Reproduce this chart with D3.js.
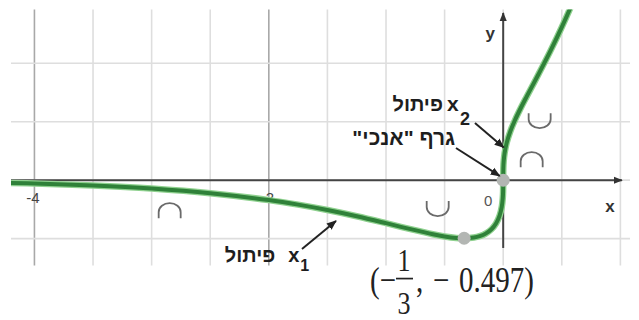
<!DOCTYPE html>
<html>
<head>
<meta charset="utf-8">
<script src="https://cdn.jsdelivr.net/npm/d3@7"></script>
<style>
  html, body { margin: 0; padding: 0; background: #fff; }
  svg { display: block; }
  .heb { font-family: "Liberation Sans", "DejaVu Sans", Arial, sans-serif; font-weight: bold; fill: #1e1e1e; }
  .math { font-family: "Liberation Serif", "DejaVu Serif", "Times New Roman", serif; fill: #222; }
</style>
</head>
<body>
<svg id="chart" width="639" height="320"></svg>
<script>
// f(x) = cbrt(x) * e^x, sampled values
const curveX = [-4.2, -4, -3.5, -3, -2.5, -2, -1.75, -1.5, -1.25, -1, -0.8, -0.6, -0.5, -0.4,
  -0.3333, -0.25, -0.2, -0.15, -0.1, -0.06, -0.03, -0.012, -0.004, -0.001, 0,
  0.001, 0.004, 0.012, 0.03, 0.06, 0.1, 0.15, 0.2, 0.3, 0.4, 0.5, 0.6, 0.7];
const curveY = [-0.0242, -0.0291, -0.0459, -0.0718, -0.1114, -0.1705, -0.2094, -0.2554, -0.3086, -0.3679, -0.4171, -0.4629, -0.4814, -0.4939,
  -0.4968, -0.4906, -0.4788, -0.4573, -0.4200, -0.3687, -0.3015, -0.2262, -0.1581, -0.0999, 0,
  0.1001, 0.1594, 0.2317, 0.3202, 0.4157, 0.5130, 0.6173, 0.7143, 0.9036, 1.0992, 1.3086, 1.5368, 1.7880];

// marked points: vertical-tangent point at the origin and the minimum
const pointX = [0, -1 / 3];
const pointY = [0, -0.497];

const gridX = [-4, -3.5, -3, -2.5, -2, -1.5, -1, -0.5, 0, 0.5, 1];
const gridY = [-0.5, 0, 0.5, 1];
const majorX = [-4, -2];
const tickLabelsX = [-4, -2];

// concavity marks
const concavityX = [-2.846, -0.559, 0.243, 0.311];
const concavityY = [-0.265, -0.239, 0.171, 0.513];
const concavityType = ["cap", "cup", "cap", "cup"];

const svg = d3.select("#chart");

const x = d3.scaleLinear().domain([-4.2, 1.082]).range([11, 630]);
const y = d3.scaleLinear().domain([-0.73, 1.46]).range([265.5, 9.5]);

// grid
const grid = svg.append("g");
grid.selectAll("line.gx").data(gridX).join("line")
  .attr("x1", d => x(d)).attr("x2", d => x(d))
  .attr("y1", y.range()[1]).attr("y2", y.range()[0])
  .attr("stroke", d => majorX.includes(d) ? "#a8a8a8" : "#dedede")
  .attr("stroke-width", 1.6);
grid.selectAll("line.gy").data(gridY).join("line")
  .attr("x1", x.range()[0]).attr("x2", x.range()[1])
  .attr("y1", d => y(d)).attr("y2", d => y(d))
  .attr("stroke", "#dedede").attr("stroke-width", 1.6);

// tick labels
const xAxis = d3.axisBottom(x).tickValues(tickLabelsX).tickSize(0).tickFormat(d => String(d));
const axG = svg.append("g").attr("transform", `translate(0,${y(0)})`).call(xAxis);
axG.select(".domain").remove();
axG.selectAll("text")
  .attr("dy", "0.71em").attr("y", 12).attr("dx", -2)
  .attr("font-family", "Liberation Sans, DejaVu Sans, Arial, sans-serif")
  .attr("font-size", 15).attr("fill", "#444");

svg.append("text").attr("x", x(0) - 15).attr("y", y(0) + 26)
  .attr("text-anchor", "middle")
  .attr("font-family", "Liberation Sans, DejaVu Sans, Arial, sans-serif")
  .attr("font-size", 15).attr("fill", "#555").text("0");

// axes with arrowheads
const defs = svg.append("defs");
defs.append("marker").attr("id", "axisArrow").attr("viewBox", "0 0 10 10")
  .attr("refX", 9).attr("refY", 5).attr("markerWidth", 4.5).attr("markerHeight", 4.5)
  .attr("orient", "auto").attr("markerUnits", "strokeWidth")
  .append("path").attr("d", "M0,1 L10,5 L0,9 Z").attr("fill", "#333");
defs.append("marker").attr("id", "noteArrow").attr("viewBox", "0 0 10 10")
  .attr("refX", 9).attr("refY", 5).attr("markerWidth", 5).attr("markerHeight", 5)
  .attr("orient", "auto").attr("markerUnits", "strokeWidth")
  .append("path").attr("d", "M0,1 L10,5 L0,9 Z").attr("fill", "#222");
defs.append("clipPath").attr("id", "plotClip").append("rect")
  .attr("x", x.range()[0]).attr("y", y.range()[1])
  .attr("width", x.range()[1] - x.range()[0]).attr("height", y.range()[0] - y.range()[1]);

svg.append("line")
  .attr("x1", x.range()[0]).attr("x2", x(1.013))
  .attr("y1", y(0)).attr("y2", y(0))
  .attr("stroke", "#444").attr("stroke-width", 2).attr("marker-end", "url(#axisArrow)");
svg.append("line")
  .attr("x1", x(0)).attr("x2", x(0))
  .attr("y1", y(-0.58)).attr("y2", y(1.43))
  .attr("stroke", "#444").attr("stroke-width", 2).attr("marker-end", "url(#axisArrow)");

svg.append("text").attr("x", x(1.013) - 12).attr("y", y(0) + 32)
  .attr("text-anchor", "middle")
  .attr("font-family", "Liberation Sans, DejaVu Sans, Arial, sans-serif")
  .attr("font-weight", "bold").attr("font-size", 17).attr("fill", "#333").text("x");
svg.append("text").attr("x", x(0) - 13).attr("y", y(1.21))
  .attr("text-anchor", "middle")
  .attr("font-family", "Liberation Sans, DejaVu Sans, Arial, sans-serif")
  .attr("font-weight", "bold").attr("font-size", 17).attr("fill", "#333").text("y");

// concavity marks
const capPath = "M-11,7 L-11,1 A11,9 0 0 1 11,1 L11,7";
const cupPath = "M-11,-7 L-11,-1 A11,9 0 0 0 11,-1 L11,-7";
svg.append("g").selectAll("path").data(concavityX.map((d, i) => i)).join("path")
  .attr("transform", i => `translate(${x(concavityX[i])},${y(concavityY[i])})`)
  .attr("d", i => concavityType[i] === "cap" ? capPath : cupPath)
  .attr("fill", "none").attr("stroke", "#6a6a6a").attr("stroke-width", 1.8);

// the curve
const pts = curveX.map((d, i) => [d, curveY[i]]);
const line = d3.line().x(d => x(d[0])).y(d => y(d[1])).curve(d3.curveCatmullRom.alpha(0.5));
const cg = svg.append("g").attr("clip-path", "url(#plotClip)");
cg.append("path").attr("d", line(pts)).attr("fill", "none")
  .attr("stroke", "#8fd18f").attr("stroke-width", 6.5).attr("stroke-linejoin", "round");
cg.append("path").attr("d", line(pts)).attr("fill", "none")
  .attr("stroke", "#2f8139").attr("stroke-width", 4).attr("stroke-linejoin", "round");

// marked points
svg.append("g").selectAll("circle").data(pointX.map((d, i) => i)).join("circle")
  .attr("cx", i => x(pointX[i])).attr("cy", i => y(pointY[i]))
  .attr("r", 6.5).attr("fill", "#b3b6b3");

// annotation arrows (data units)
const arrows = [
  { x1: -1.717, y1: -0.589, x2: -1.427, y2: -0.349 },
  { x1: -0.241, y1: 0.489, x2: 0.004, y2: 0.28 },
  { x1: -0.403, y1: 0.275, x2: -0.03, y2: 0.036 }
];
svg.append("g").selectAll("line").data(arrows).join("line")
  .attr("x1", d => x(d.x1)).attr("y1", d => y(d.y1))
  .attr("x2", d => x(d.x2)).attr("y2", d => y(d.y2))
  .attr("stroke", "#222").attr("stroke-width", 2).attr("marker-end", "url(#noteArrow)");

// Hebrew labels use rtl direction; text-anchor "start" then pins their right edge
function hebrew(g, xPos, yPos, size, str) {
  return g.append("text").attr("class", "heb")
    .attr("x", xPos).attr("y", yPos)
    .attr("direction", "rtl").attr("text-anchor", "start")
    .attr("font-size", size).text(str);
}

// inflection label x1
const l1 = svg.append("g").attr("transform", `translate(${x(-1.86)},${y(-0.70)})`);
hebrew(l1, -10, 0, 20, "פיתול");
l1.append("text").attr("class", "heb").attr("x", 3).attr("y", 0).attr("font-size", 20).text("x");
l1.append("text").attr("class", "heb").attr("x", 15).attr("y", 9).attr("font-size", 16).text("1");

// inflection label x2
const l2 = svg.append("g").attr("transform", `translate(${x(-0.48)},${y(0.592)})`);
hebrew(l2, -4, 0, 20, "פיתול");
l2.append("text").attr("class", "heb").attr("x", 0).attr("y", 0).attr("font-size", 21).text("x");
l2.append("text").attr("class", "heb").attr("x", 13).attr("y", 14).attr("font-size", 18).text("2");

// vertical-tangent label
hebrew(svg, x(-0.41), y(0.3), 21, "גרף \"אנכי\"");

// coordinates of the minimum
const m = svg.append("g").attr("transform", "translate(370,292) scale(1,1.22)");
m.append("text").attr("class", "math").attr("x", 0).attr("y", 0).attr("font-size", 29).text("(−");
m.append("text").attr("class", "math").attr("x", 34).attr("y", -17).attr("font-size", 26)
  .attr("text-anchor", "middle").text("1");
m.append("line").attr("x1", 26).attr("x2", 43).attr("y1", -11).attr("y2", -11)
  .attr("stroke", "#222").attr("stroke-width", 1.4);
m.append("text").attr("class", "math").attr("x", 34).attr("y", 18).attr("font-size", 26)
  .attr("text-anchor", "middle").text("3");
m.append("text").attr("class", "math").attr("x", 46).attr("y", 0).attr("font-size", 29).text(",");
m.append("text").attr("class", "math").attr("x", 63).attr("y", 0).attr("font-size", 29).text("−");
m.append("text").attr("class", "math").attr("x", 89).attr("y", 0).attr("font-size", 29)
  .text(Math.abs(pointY[1]).toFixed(3) + ")");
</script>
</body>
</html>
